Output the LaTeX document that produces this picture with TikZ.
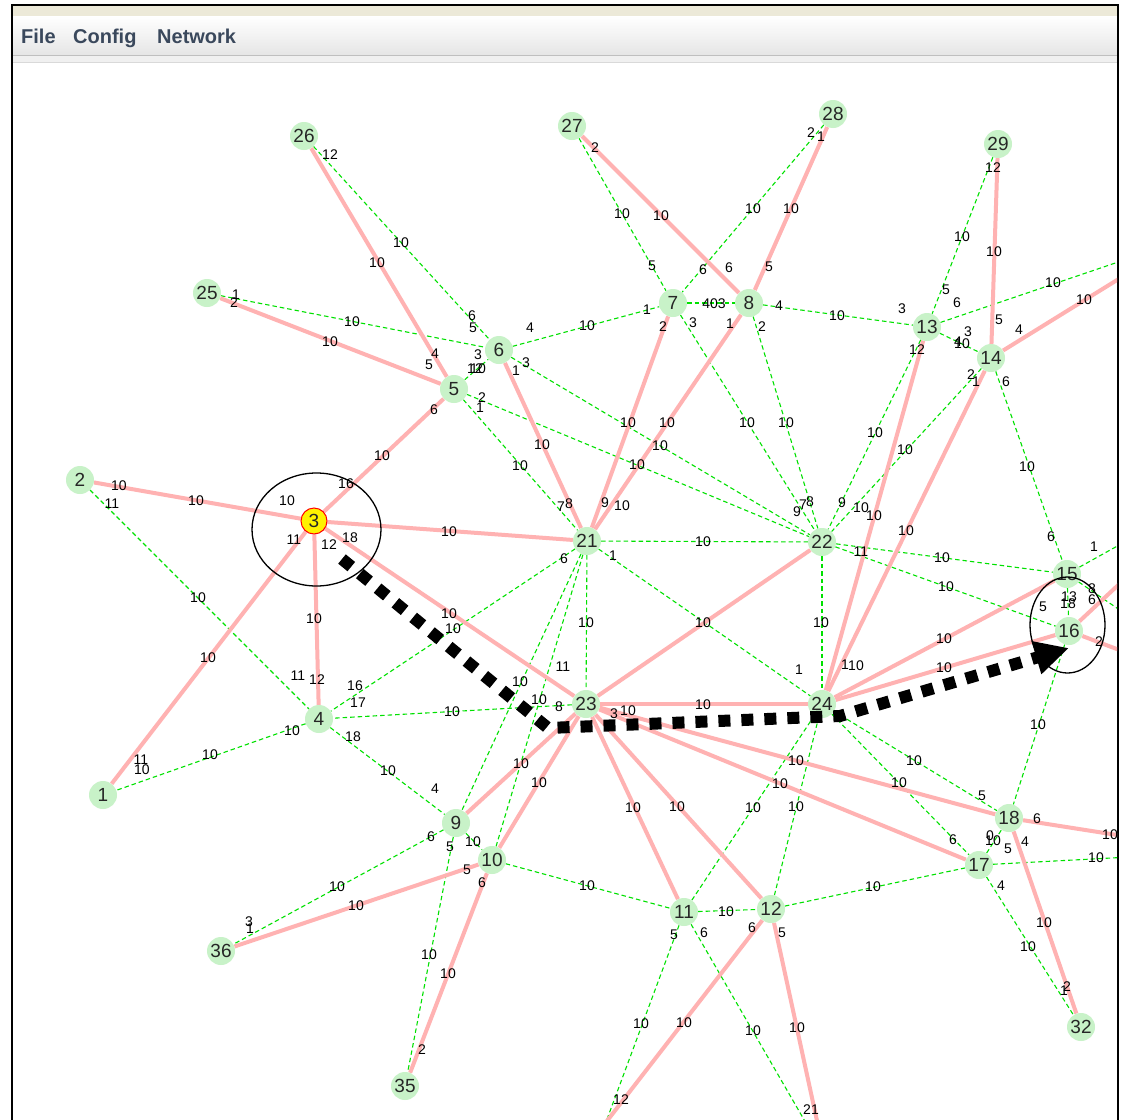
\documentclass[tikz,border=0pt]{standalone}
\usepackage{fontspec}
\setmainfont{Liberation Sans}
\usetikzlibrary{arrows.meta,shapes.geometric}
\definecolor{ngreen}{RGB}{200,242,200}
\definecolor{pinke}{RGB}{255,178,178}
\definecolor{greene}{RGB}{0,225,0}
\definecolor{beige}{RGB}{236,233,216}
\definecolor{menut}{RGB}{58,72,92}
\pgfdeclarelayer{chrome}
\pgfdeclarelayer{edges}
\pgfsetlayers{chrome,edges,main}
\newcounter{lbn}
\newcommand\elab[3]{\stepcounter{lbn}\node[elabel] (lab\arabic{lbn}) at (#1,#2) {#3};}
\newcommand\gn[3]{\node[gnode] (n#1) at (#2,#3) {#1};}
\begin{document}
\begin{tikzpicture}[x=1pt,y=-1pt,
 gnode/.style={circle,fill=ngreen,minimum size=28pt,inner sep=0pt,font=\fontsize{19}{19}\selectfont,text=black!85},
 pe/.style={draw=pinke,line width=4pt},
 ge/.style={draw=greene,line width=1.1pt,dash pattern=on 4.5pt off 3pt},
 elabel/.style={inner sep=0pt,font=\fontsize{14}{14}\selectfont,text=black},
 menu/.style={anchor=base west,inner sep=0pt,font=\fontsize{20}{20}\selectfont\bfseries,text=menut},
 ring/.style={ellipse,draw=black,line width=1.3pt,inner sep=0pt},
 route/.style={draw=black,line width=12pt,dash pattern=on 12pt off 11pt,-{Triangle[length=34pt,width=32pt]}}
]
\useasboundingbox (0,0) rectangle (1124,1119);
% ---------- window chrome ----------
\begin{pgfonlayer}{chrome}
\fill[white] (0,0) rectangle (1124,1119);
\fill[beige] (13,6) rectangle (1117,16);
\shade[top color=white,bottom color=black!10] (13,16) rectangle (1117,55);
\fill[black!6] (13,56) rectangle (1117,62);
\draw[black!25,line width=1pt] (13,55.5) -- (1117,55.5);
\draw[black!15,line width=0.8pt] (13,62) -- (1117,62);
\draw[black,line width=2pt] (12,1125) -- (12,5) -- (1118,5) -- (1118,1125);
\end{pgfonlayer}
\node[menu] (mfile) at (21,43) {File};
\node[menu] (mconfig) at (73,43) {Config};
\node[menu] (mnet) at (157,43) {Network};
% ---------- nodes ----------
\gn{1}{103}{795}
\gn{2}{80}{480}
\node[gnode,fill=yellow,draw=red,line width=1pt,minimum size=26pt] (n3) at (314,521) {3};
\gn{4}{319}{719}
\gn{5}{454}{389}
\gn{6}{499}{350}
\gn{7}{673}{303}
\gn{8}{749}{303}
\gn{9}{456}{823}
\gn{10}{492}{860}
\gn{11}{684}{912}
\gn{12}{771}{909}
\gn{13}{927}{327}
\gn{14}{991}{358}
\gn{15}{1067}{574}
\gn{16}{1069}{631}
\gn{17}{979}{865}
\gn{18}{1009}{818}
\gn{21}{587}{541}
\gn{22}{822}{542}
\gn{23}{586}{704}
\gn{24}{822}{704}
\gn{25}{207}{293}
\gn{26}{304}{136}
\gn{27}{572}{126}
\gn{28}{833}{114}
\gn{29}{998}{144}
\gn{32}{1081}{1027}
\gn{35}{405}{1086}
\gn{36}{221}{951}
% off-canvas ends
\coordinate (e14) at (1130,272);
\coordinate (e13) at (1130,258);
\coordinate (e15a) at (1130,539);
\coordinate (e15b) at (1130,617);
\coordinate (e16a) at (1130,574);
\coordinate (e16b) at (1130,654);
\coordinate (e18) at (1130,837);
\coordinate (e17) at (1130,857);
\coordinate (e12a) at (600,1130);
\coordinate (e12b) at (819,1130);
\coordinate (e11a) at (603,1130);
\coordinate (e11b) at (810,1130);
% ---------- edges ----------
\begin{pgfonlayer}{edges}
\begin{scope}
\clip (13,63) rectangle (1117,1119);
\foreach \a/\b in {26/6,25/6,5/6,6/7,27/7,28/7,7/8,8/13,29/13,13/14,13/22,14/22,14/15,8/22,7/22,6/22,5/22,5/21,21/22,21/24,21/23,21/4,21/9,21/10,22/24,22/15,22/16,23/4,4/9,4/1,2/4,9/10,9/36,9/35,10/11,11/12,11/24,12/24,12/17,24/18,24/17,16/18,15/16,17/32,17/18}
  \draw[ge] (n\a) -- (n\b);
\draw[ge] (n13) -- (e13);
\draw[ge] (n15) -- (e15a);
\draw[ge] (n15) -- (e15b);
\draw[ge] (n17) -- (e17);
\draw[ge] (n11) -- (e11a);
\draw[ge] (n11) -- (e11b);
\foreach \a/\b in {26/5,25/5,5/3,2/3,3/1,3/4,3/21,3/23,6/21,7/21,8/21,27/8,28/8,29/14,13/24,14/24,22/23,23/24,24/15,24/16,23/9,23/10,23/11,23/12,23/18,23/17,18/32,10/36,10/35}
  \draw[pe] (n\a) -- (n\b);
\draw[pe] (n14) -- (e14);
\draw[pe] (n16) -- (e16a);
\draw[pe] (n16) -- (e16b);
\draw[pe] (n18) -- (e18);
\draw[pe] (n12) -- (e12a);
\draw[pe] (n12) -- (e12b);
\end{scope}
\end{pgfonlayer}
% ---------- edge labels ----------
\elab{330}{155}{12}
\elab{377}{263}{10}
\elab{401}{243}{10}
\elab{236}{295}{1}
\elab{234}{303}{2}
\elab{352}{322}{10}
\elab{330}{342}{10}
\elab{595}{148}{2}
\elab{622}{214}{10}
\elab{661}{216}{10}
\elab{652}{266}{5}
\elab{703}{270}{6}
\elab{729}{268}{6}
\elab{753}{209}{10}
\elab{472}{316}{6}
\elab{473}{328}{5}
\elab{530}{328}{4}
\elab{587}{326}{10}
\elab{647}{310}{1}
\elab{714}{304}{403}
\elab{693}{323}{3}
\elab{663}{327}{2}
\elab{730}{324}{1}
\elab{435}{354}{4}
\elab{429}{365}{5}
\elab{478}{355}{3}
\elab{475}{369}{12}
\elab{478}{369}{10}
\elab{526}{363}{3}
\elab{516}{371}{1}
\elab{434}{410}{6}
\elab{482}{398}{2}
\elab{480}{408}{1}
\elab{628}{423}{10}
\elab{667}{423}{10}
\elab{747}{423}{10}
\elab{660}{446}{10}
\elab{542}{445}{10}
\elab{762}{327}{2}
\elab{811}{133}{2}
\elab{821}{137}{1}
\elab{791}{209}{10}
\elab{769}{267}{5}
\elab{993}{168}{12}
\elab{962}{237}{10}
\elab{994}{252}{10}
\elab{946}{290}{5}
\elab{957}{303}{6}
\elab{1053}{283}{10}
\elab{1084}{300}{10}
\elab{779}{306}{4}
\elab{837}{316}{10}
\elab{902}{309}{3}
\elab{999}{320}{5}
\elab{1019}{330}{4}
\elab{968}{332}{3}
\elab{958}{342}{4}
\elab{962}{344}{10}
\elab{917}{350}{12}
\elab{971}{375}{2}
\elab{976}{382}{1}
\elab{1006}{382}{6}
\elab{786}{423}{10}
\elab{875}{433}{10}
\elab{905}{450}{10}
\elab{119}{486}{10}
\elab{112}{504}{11}
\elab{196}{501}{10}
\elab{287}{501}{10}
\elab{346}{484}{16}
\elab{382}{456}{10}
\elab{294}{540}{11}
\elab{329}{545}{12}
\elab{350}{538}{18}
\elab{198}{598}{10}
\elab{314}{619}{10}
\elab{208}{658}{10}
\elab{298}{676}{11}
\elab{317}{680}{12}
\elab{355}{686}{16}
\elab{358}{703}{17}
\elab{292}{731}{10}
\elab{353}{737}{18}
\elab{210}{755}{10}
\elab{520}{466}{10}
\elab{637}{465}{10}
\elab{561}{507}{7}
\elab{569}{504}{8}
\elab{605}{503}{9}
\elab{622}{506}{10}
\elab{449}{532}{10}
\elab{703}{542}{10}
\elab{564}{559}{6}
\elab{613}{556}{1}
\elab{449}{614}{10}
\elab{453}{629}{10}
\elab{586}{623}{10}
\elab{703}{623}{10}
\elab{563}{667}{11}
\elab{520}{682}{10}
\elab{539}{700}{10}
\elab{452}{712}{10}
\elab{559}{707}{8}
\elab{614}{714}{3}
\elab{628}{711}{10}
\elab{703}{705}{10}
\elab{1027}{467}{10}
\elab{803}{505}{7}
\elab{810}{502}{8}
\elab{797}{512}{9}
\elab{842}{503}{9}
\elab{861}{508}{10}
\elab{874}{516}{10}
\elab{906}{531}{10}
\elab{1051}{537}{6}
\elab{1094}{547}{1}
\elab{861}{552}{11}
\elab{942}{558}{10}
\elab{946}{587}{10}
\elab{1043}{607}{5}
\elab{1069}{597}{13}
\elab{1068}{604}{18}
\elab{1092}{589}{8}
\elab{1092}{600}{6}
\elab{1099}{642}{2}
\elab{821}{623}{10}
\elab{944}{639}{10}
\elab{944}{668}{10}
\elab{799}{670}{1}
\elab{845}{665}{1}
\elab{856}{666}{10}
\elab{1038}{725}{10}
\elab{796}{761}{10}
\elab{914}{761}{10}
\elab{780}{784}{10}
\elab{899}{783}{10}
\elab{982}{796}{5}
\elab{753}{808}{10}
\elab{796}{807}{10}
\elab{141}{760}{11}
\elab{142}{770}{10}
\elab{388}{771}{10}
\elab{435}{789}{4}
\elab{431}{837}{6}
\elab{337}{887}{10}
\elab{356}{906}{10}
\elab{249}{922}{3}
\elab{250}{929}{1}
\elab{429}{955}{10}
\elab{422}{1050}{2}
\elab{521}{764}{10}
\elab{539}{783}{10}
\elab{633}{808}{10}
\elab{677}{807}{10}
\elab{450}{847}{5}
\elab{473}{842}{10}
\elab{467}{870}{5}
\elab{482}{883}{6}
\elab{587}{886}{10}
\elab{726}{912}{10}
\elab{674}{935}{5}
\elab{704}{933}{6}
\elab{752}{928}{6}
\elab{448}{974}{10}
\elab{641}{1024}{10}
\elab{684}{1023}{10}
\elab{753}{1031}{10}
\elab{621}{1100}{12}
\elab{1037}{819}{6}
\elab{1110}{835}{10}
\elab{953}{840}{6}
\elab{993}{841}{10}
\elab{990}{836}{0}
\elab{1008}{849}{5}
\elab{1025}{842}{4}
\elab{1096}{858}{10}
\elab{873}{887}{10}
\elab{1001}{886}{4}
\elab{782}{933}{5}
\elab{1044}{923}{10}
\elab{1028}{947}{10}
\elab{1067}{987}{2}
\elab{1064}{991}{1}
\elab{797}{1028}{10}
\elab{811}{1110}{21}
% ---------- annotations ----------
\node[ring,minimum width=129pt,minimum height=113pt] (ring3) at (316.5,529.5) {};
\node[ring,minimum width=75pt,minimum height=96pt] (ring16) at (1067.5,625) {};
\coordinate (r0) at (342,559);
\coordinate (r1) at (548,728);
\coordinate (r2) at (840,716);
\coordinate (r3) at (1069,648);
\draw[route] (r0) -- (r1) -- (r2) -- (r3);
\end{tikzpicture}
\end{document}
